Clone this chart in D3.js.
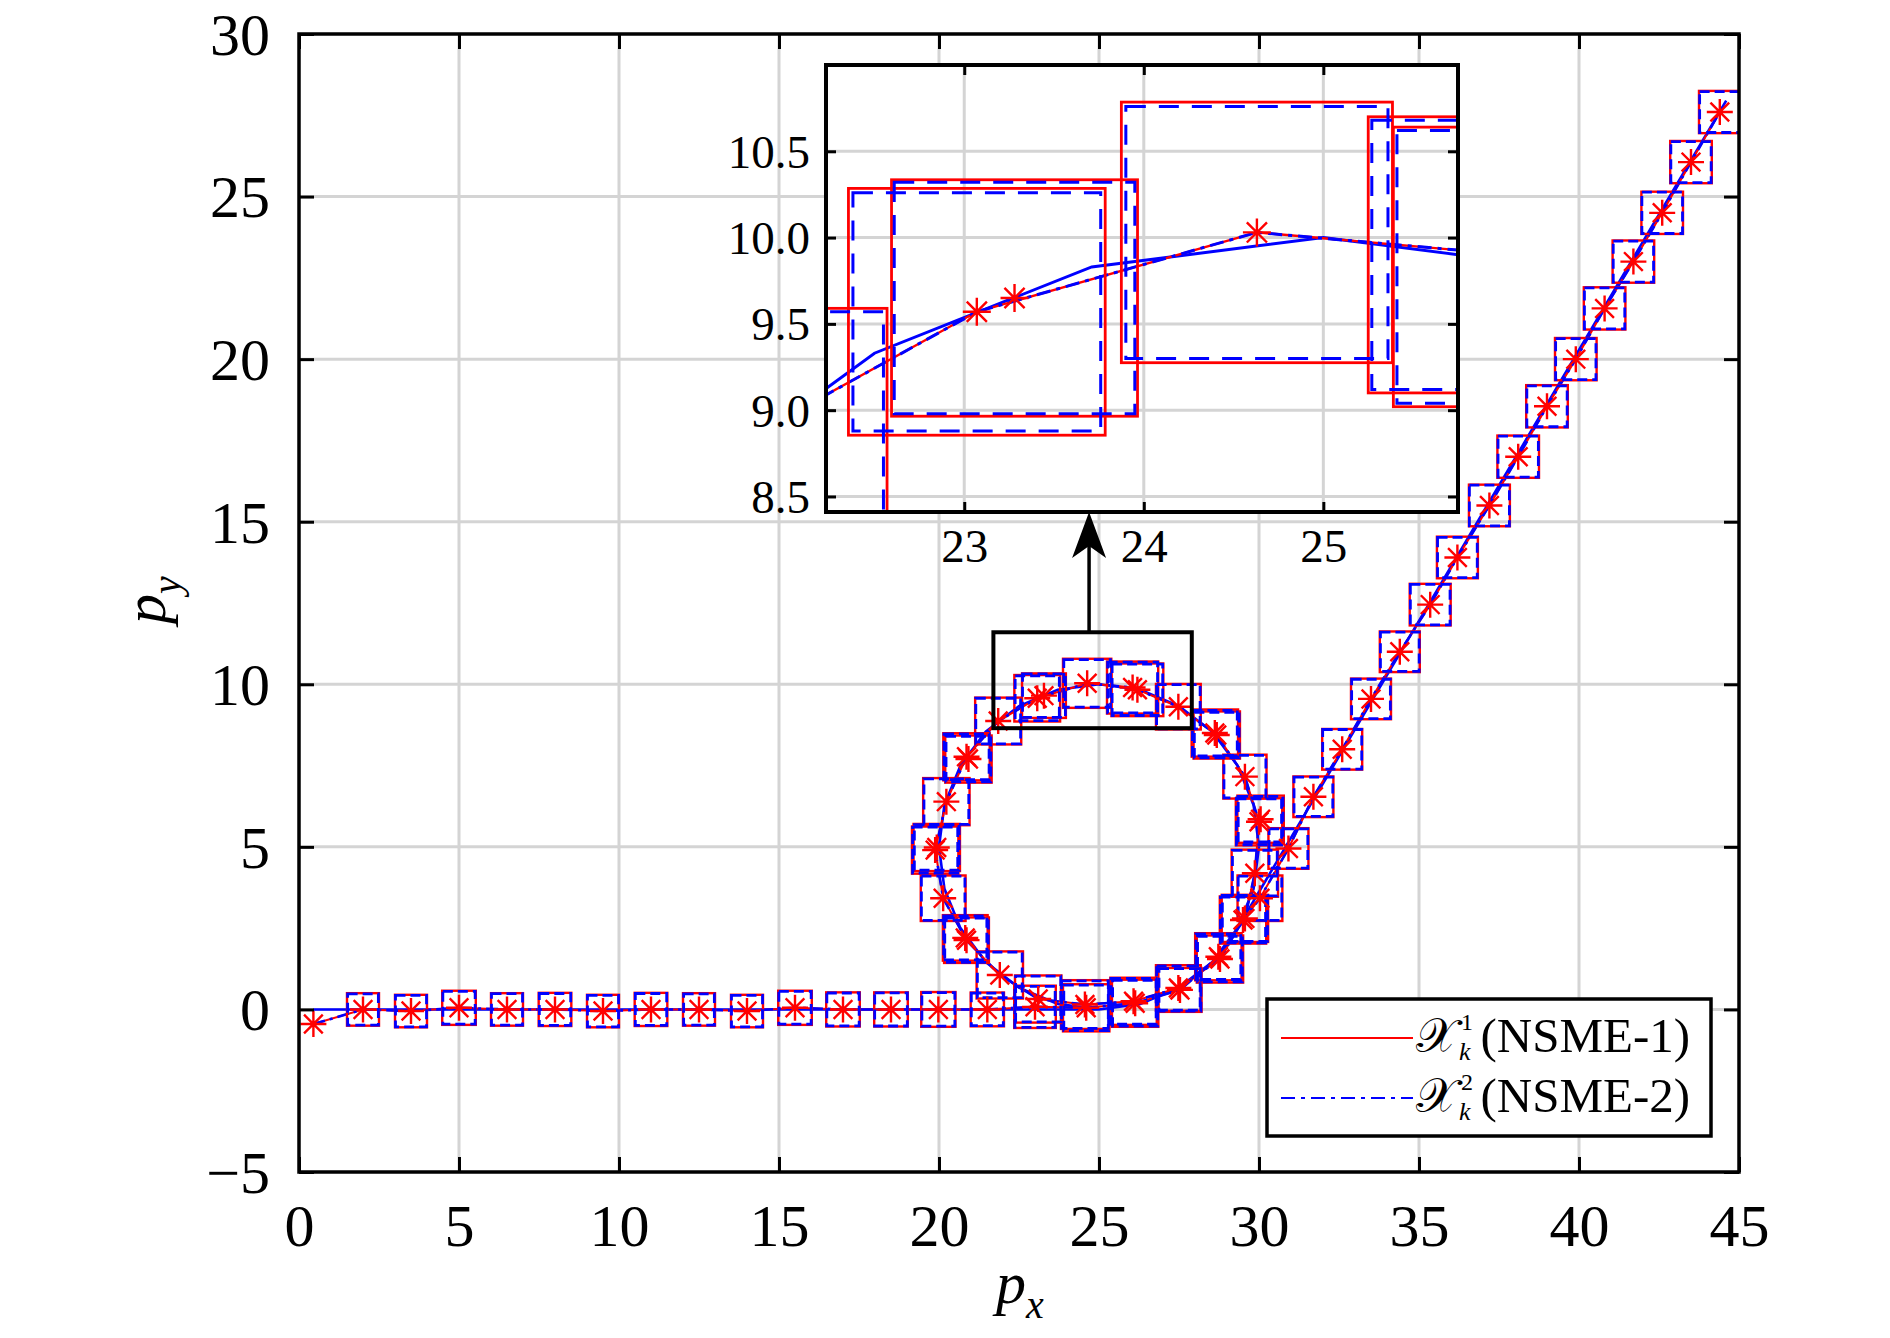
<!DOCTYPE html>
<html>
<head>
<meta charset="utf-8">
<script src="https://cdn.jsdelivr.net/npm/d3@7"></script>
<style>
  body { margin: 0; background: #fff; }
  svg { display: block; }
  text { font-family: "Liberation Serif", "Times New Roman", serif; fill: #000; }
</style>
</head>
<body>
<svg id="chart" width="1890" height="1338"></svg>
<script>
// ---- data ----
const xTicks = [0, 5, 10, 15, 20, 25, 30, 35, 40, 45]
const yTicks = [-5, 0, 5, 10, 15, 20, 25, 30]
const zoomXTicks = [23, 24, 25]
const zoomYTicks = [8.5, 9.0, 9.5, 10.0, 10.5]

// true trajectory (blue solid)
const truthX = [0.45, 25.0, 26.29, 27.5, 28.54, 29.33, 29.83, 30.0, 29.83, 29.33, 28.54, 27.5, 26.29, 25.0, 23.71, 22.5,
  21.46, 20.67, 20.17, 20.0, 20.17, 20.67, 21.46, 22.5, 23.71, 25.0, 26.29, 27.5, 28.54, 29.33, 44.6]
const truthY = [0.0, 0.0, 0.17, 0.67, 1.46, 2.5, 3.71, 5.0, 6.29, 7.5, 8.54, 9.33, 9.83, 10.0, 9.83, 9.33,
  8.54, 7.5, 6.29, 5.0, 3.71, 2.5, 1.46, 0.67, 0.17, 0.0, 0.17, 0.67, 1.46, 2.5, 27.95]

// estimated centres, in time order (stars + line)
const estX = [0.45, 2.0, 3.5, 5.0, 6.5, 8.0, 9.5, 11.0, 12.5, 14.0, 15.5, 17.0, 18.5, 19.98, 21.51, 23.0,
  24.6, 26.13, 27.53, 28.73, 29.56, 29.87, 30.0, 29.56, 28.68, 27.48, 26.05, 24.63, 23.07, 21.85, 20.86,
  20.23, 19.88, 20.13, 20.86, 21.9, 23.1,
  24.56, 26.08, 27.48, 28.78, 29.5,
  30.03, 30.92, 31.7, 32.6, 33.5, 34.4, 35.35, 36.2, 37.2, 38.1, 39.0, 39.9, 40.8, 41.7, 42.6, 43.5, 44.4]
const estY = [-0.45, 0.0, -0.05, 0.05, 0.0, 0.0, -0.05, 0.0, 0.0, -0.05, 0.05, 0.0, 0.0, 0.0, 0.0, 0.08,
  0.05, 0.19, 0.6, 1.62, 2.8, 4.19, 5.77, 7.16, 8.44, 9.31, 9.9, 10.03, 9.57, 8.87, 7.77,
  6.39, 4.9, 3.42, 2.13, 1.06, 0.32,
  0.15, 0.25, 0.66, 1.55, 2.75,
  3.42, 4.95, 6.54, 8.0, 9.55, 11.0, 12.45, 13.9, 15.5, 17.0, 18.55, 20.0, 21.56, 23.0, 24.5, 26.06, 27.6]
// side length of the NSME-1 (red) and NSME-2 (blue) boxes around each centre
const set1Size = [0, 1.0, 1.0, 1.05, 1.0, 1.02, 1.0, 1.02, 1.0, 1.0, 1.05, 1.05, 1.05, 1.07, 1.04, 1.3,
  1.45, 1.45, 1.35, 1.45, 1.45, 1.45, 1.45, 1.35, 1.45, 1.4, 1.6, 1.51, 1.43, 1.44, 1.45,
  1.45, 1.45, 1.4, 1.4, 1.45, 1.45,
  1.5, 1.45, 1.4, 1.45, 1.45,
  1.4, 1.25, 1.25, 1.25, 1.25, 1.25, 1.28, 1.28, 1.28, 1.3, 1.3, 1.3, 1.3, 1.3, 1.3, 1.3, 1.3]
const set2Size = [0, 0.96, 0.97, 1.01, 0.97, 0.98, 0.97, 0.98, 0.96, 0.97, 1.01, 1.01, 1.02, 1.03, 1.0, 1.26,
  1.4, 1.41, 1.31, 1.4, 1.41, 1.4, 1.41, 1.31, 1.4, 1.36, 1.56, 1.46, 1.38, 1.4, 1.41,
  1.4, 1.41, 1.36, 1.36, 1.4, 1.41,
  1.46, 1.41, 1.36, 1.4, 1.41,
  1.36, 1.21, 1.21, 1.22, 1.21, 1.21, 1.24, 1.24, 1.25, 1.26, 1.26, 1.26, 1.26, 1.26, 1.27, 1.26, 1.26]

// second-pass centres that sit next to earlier ones
const est2X = [20.82, 19.93, 20.92, 23.28, 26.2, 28.62, 30.05]
const est2Y = [2.2, 4.98, 7.7, 9.65, 9.83, 8.5, 5.85]
const set1Size2 = [1.4, 1.45, 1.45, 1.37, 1.62, 1.45, 1.45]
const set2Size2 = [1.35, 1.4, 1.4, 1.34, 1.58, 1.4, 1.4]

// zoom window and arrow (data units)
const zoomBox = { x0: 21.7, x1: 27.9, y0: 8.65, y1: 11.6 }
const arrowX = 24.69

const legendSup = ["1", "2"]
const legendText = ["(NSME-1)", "(NSME-2)"]

// ---- build ----
const svg = d3.select("#chart")
const red = "#ff0000", blue = "#0000ff", grid = "#d4d4d4"

const x = d3.scaleLinear().domain([0, 45]).range([299, 1739])
const y = d3.scaleLinear().domain([-5, 30]).range([1172, 34])

const truth = truthX.map((v, i) => [v, truthY[i]])
const est = estX.map((v, i) => ({ x: v, y: estY[i], s1: set1Size[i], s2: set2Size[i] }))
const est2 = est2X.map((v, i) => ({ x: v, y: est2Y[i], s1: set1Size2[i], s2: set2Size2[i] }))
const allPts = est.concat(est2)

svg.append("defs").append("clipPath").attr("id", "mainClip")
  .append("rect").attr("x", 299).attr("y", 34).attr("width", 1440).attr("height", 1138)

function starPath(r) {
  const a = r * 0.72
  return `M${-r},0L${r},0M0,${-r}L0,${r}M${-a},${-a}L${a},${a}M${-a},${a}L${a},${-a}`
}

function drawContent(g, sx, sy, st) {
  const line = d3.line().x(d => sx(d[0])).y(d => sy(d[1]))
  g.append("path").attr("d", line(truth)).attr("fill", "none")
    .attr("stroke", blue).attr("stroke-width", st.truthW)
  const estLine = est.map(d => [d.x, d.y])
  g.append("path").attr("d", line(estLine)).attr("fill", "none")
    .attr("stroke", red).attr("stroke-width", st.redW)
  g.append("path").attr("d", line(estLine)).attr("fill", "none")
    .attr("stroke", blue).attr("stroke-width", st.blueW).attr("stroke-dasharray", st.dashDot)

  const boxed = allPts.filter(d => d.s1 > 0)
  g.append("g").selectAll("rect").data(boxed).join("rect")
    .attr("x", d => sx(d.x - d.s1 / 2))
    .attr("y", d => sy(d.y + d.s1 / 2))
    .attr("width", d => sx(d.x + d.s1 / 2) - sx(d.x - d.s1 / 2))
    .attr("height", d => sy(d.y - d.s1 / 2) - sy(d.y + d.s1 / 2))
    .attr("fill", "none").attr("stroke", red).attr("stroke-width", st.boxRedW)
  g.append("g").selectAll("rect").data(boxed).join("rect")
    .attr("x", d => sx(d.x - d.s2 / 2))
    .attr("y", d => sy(d.y + d.s2 / 2))
    .attr("width", d => sx(d.x + d.s2 / 2) - sx(d.x - d.s2 / 2))
    .attr("height", d => sy(d.y - d.s2 / 2) - sy(d.y + d.s2 / 2))
    .attr("fill", "none").attr("stroke", blue).attr("stroke-width", st.boxBlueW)
    .attr("stroke-dasharray", st.dash)

  g.append("g").selectAll("path").data(allPts).join("path")
    .attr("transform", d => `translate(${sx(d.x)},${sy(d.y)})`)
    .attr("d", starPath(st.star))
    .attr("fill", "none").attr("stroke", red).attr("stroke-width", st.starW)
}

// grid
svg.append("g").selectAll("line").data(xTicks.slice(1, -1)).join("line")
  .attr("x1", d => x(d)).attr("x2", d => x(d)).attr("y1", y(-5)).attr("y2", y(30))
  .attr("stroke", grid).attr("stroke-width", 3)
svg.append("g").selectAll("line").data(yTicks.slice(1, -1)).join("line")
  .attr("y1", d => y(d)).attr("y2", d => y(d)).attr("x1", x(0)).attr("x2", x(45))
  .attr("stroke", grid).attr("stroke-width", 3)

// main content
const main = svg.append("g").attr("clip-path", "url(#mainClip)")
drawContent(main, x, y, {
  truthW: 2.6, redW: 2, blueW: 2.6, dashDot: "12,5,3,5",
  boxRedW: 2.4, boxBlueW: 2.8, dash: "10,5", star: 13, starW: 2.4
})

// axes
function styleAxis(g) {
  g.select(".domain").remove()
  g.selectAll(".tick line").attr("stroke", "#000").attr("stroke-width", 3)
  g.attr("font-family", "Liberation Serif, Times New Roman, serif")
}
svg.append("g").attr("transform", `translate(0,${y(-5)})`)
  .call(d3.axisBottom(x).tickValues(xTicks).tickSize(-15).tickSizeOuter(0))
  .call(styleAxis)
  .call(g => g.selectAll("text").attr("y", 74).attr("dy", 0).attr("font-size", 60))
svg.append("g").attr("transform", `translate(0,${y(30)})`)
  .call(d3.axisTop(x).tickValues(xTicks).tickSize(-15).tickSizeOuter(0).tickFormat(""))
  .call(styleAxis)
svg.append("g").attr("transform", `translate(${x(0)},0)`)
  .call(d3.axisLeft(y).tickValues(yTicks).tickSize(-15).tickSizeOuter(0))
  .call(styleAxis)
  .call(g => g.selectAll("text").attr("x", -29).attr("dy", "0.34em").attr("font-size", 60))
svg.append("g").attr("transform", `translate(${x(45)},0)`)
  .call(d3.axisRight(y).tickValues(yTicks).tickSize(-15).tickSizeOuter(0).tickFormat(""))
  .call(styleAxis)

svg.append("rect").attr("x", x(0)).attr("y", y(30))
  .attr("width", x(45) - x(0)).attr("height", y(-5) - y(30))
  .attr("fill", "none").attr("stroke", "#000").attr("stroke-width", 3.5)

// axis labels
const xl = svg.append("text").attr("x", 1020).attr("y", 1303).attr("text-anchor", "middle")
xl.append("tspan").attr("font-style", "italic").attr("font-size", 60).text("p")
xl.append("tspan").attr("font-style", "italic").attr("font-size", 40).attr("dy", 15).text("x")
const yl = svg.append("text").attr("transform", "translate(165,600) rotate(-90)").attr("text-anchor", "middle")
yl.append("tspan").attr("font-style", "italic").attr("font-size", 60).text("p")
yl.append("tspan").attr("font-style", "italic").attr("font-size", 40).attr("dy", 15).text("y")

// zoom window + arrow
svg.append("rect")
  .attr("x", x(zoomBox.x0)).attr("y", y(zoomBox.y1))
  .attr("width", x(zoomBox.x1) - x(zoomBox.x0)).attr("height", y(zoomBox.y0) - y(zoomBox.y1))
  .attr("fill", "none").attr("stroke", "#000").attr("stroke-width", 4)

// inset
const ix = d3.scaleLinear().domain([22.23, 25.75]).range([826, 1458])
const iy = d3.scaleLinear().domain([8.41, 11.0]).range([512, 65])

const ax = x(arrowX)
const ib = iy.range()[0]
svg.append("line").attr("x1", ax).attr("x2", ax).attr("y1", y(zoomBox.y1)).attr("y2", ib + 30)
  .attr("stroke", "#000").attr("stroke-width", 3.5)
svg.append("path")
  .attr("d", `M${ax},${ib}L${ax + 17},${ib + 46}L${ax},${ib + 34}L${ax - 17},${ib + 46}Z`)
  .attr("fill", "#000")

svg.select("defs").append("clipPath").attr("id", "insetClip")
  .append("rect").attr("x", 826).attr("y", 65).attr("width", 632).attr("height", 447)

const inset = svg.append("g")
inset.append("rect").attr("x", 826).attr("y", 65).attr("width", 632).attr("height", 447).attr("fill", "#fff")
inset.append("g").selectAll("line").data(zoomXTicks).join("line")
  .attr("x1", d => ix(d)).attr("x2", d => ix(d)).attr("y1", 65).attr("y2", 512)
  .attr("stroke", grid).attr("stroke-width", 3)
inset.append("g").selectAll("line").data(zoomYTicks).join("line")
  .attr("y1", d => iy(d)).attr("y2", d => iy(d)).attr("x1", 826).attr("x2", 1458)
  .attr("stroke", grid).attr("stroke-width", 3)

const insetContent = inset.append("g").attr("clip-path", "url(#insetClip)")
drawContent(insetContent, ix, iy, {
  truthW: 3, redW: 2.4, blueW: 3, dashDot: "14,6,4,6",
  boxRedW: 2.8, boxBlueW: 3, dash: "20,13", star: 14, starW: 2.4
})

inset.append("g").attr("transform", "translate(0,512)")
  .call(d3.axisBottom(ix).tickValues(zoomXTicks).tickSize(-10).tickSizeOuter(0).tickFormat(d3.format("d")))
  .call(styleAxis)
  .call(g => g.selectAll("text").attr("y", 50).attr("dy", 0).attr("font-size", 47))
inset.append("g").attr("transform", "translate(0,65)")
  .call(d3.axisTop(ix).tickValues(zoomXTicks).tickSize(-10).tickSizeOuter(0).tickFormat(""))
  .call(styleAxis)
inset.append("g").attr("transform", "translate(826,0)")
  .call(d3.axisLeft(iy).tickValues(zoomYTicks).tickSize(-10).tickSizeOuter(0).tickFormat(d3.format(".1f")))
  .call(styleAxis)
  .call(g => g.selectAll("text").attr("x", -16).attr("dy", "0.34em").attr("font-size", 47))
inset.append("g").attr("transform", "translate(1458,0)")
  .call(d3.axisRight(iy).tickValues(zoomYTicks).tickSize(-10).tickSizeOuter(0).tickFormat(""))
  .call(styleAxis)
inset.append("rect").attr("x", 826).attr("y", 65).attr("width", 632).attr("height", 447)
  .attr("fill", "none").attr("stroke", "#000").attr("stroke-width", 4)

// legend
const leg = svg.append("g")
leg.append("rect").attr("x", 1267).attr("y", 999).attr("width", 444).attr("height", 137)
  .attr("fill", "#fff").attr("stroke", "#000").attr("stroke-width", 3.5)
const rows = leg.selectAll("g.row").data(legendText).join("g").attr("class", "row")
  .attr("transform", (d, i) => `translate(0,${i * 60})`)
rows.append("line").attr("x1", 1281).attr("x2", 1413).attr("y1", 1038).attr("y2", 1038)
  .attr("stroke", (d, i) => i === 0 ? red : blue).attr("stroke-width", 2.2)
  .attr("stroke-dasharray", (d, i) => i === 0 ? null : "14,6,4,6")
const lt = rows.append("text").attr("x", 1416).attr("y", 1052)
lt.append("tspan").attr("font-size", 48).text("\u{1D4B3}")
lt.append("tspan").attr("font-size", 24).attr("dx", 4).attr("dy", -22).text((d, i) => legendSup[i])
lt.append("tspan").attr("font-size", 26).attr("font-style", "italic").attr("dx", -14).attr("dy", 30).text("k")
lt.append("tspan").attr("font-size", 49).attr("dx", 10).attr("dy", -8).text(d => d)
</script>
</body>
</html>
